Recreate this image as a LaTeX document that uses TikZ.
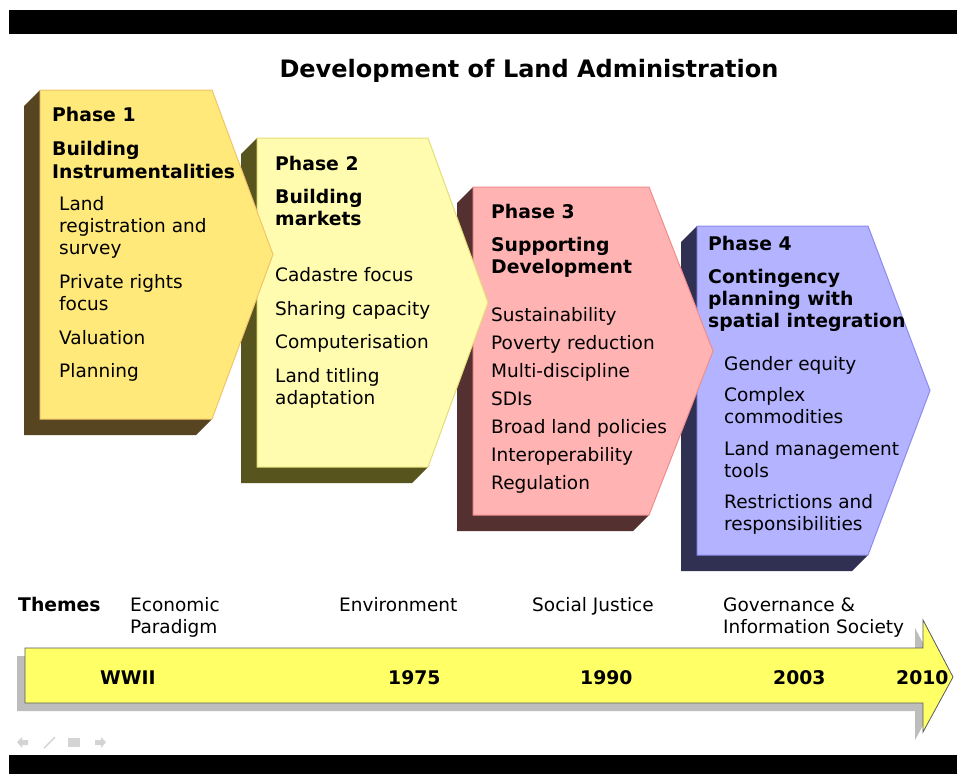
\documentclass[tikz,border=0pt]{standalone}
\usepackage{fontspec}
\setmainfont{DejaVu Sans}
\definecolor{ponef}{HTML}{FFE97A}
\definecolor{poneb}{HTML}{F2C46A}
\definecolor{pones}{HTML}{574420}
\definecolor{ptwof}{HTML}{FFFCB0}
\definecolor{ptwob}{HTML}{E4DE78}
\definecolor{ptwos}{HTML}{57541E}
\definecolor{pthrf}{HTML}{FFB3B3}
\definecolor{pthrb}{HTML}{F08C8C}
\definecolor{pthrs}{HTML}{553030}
\definecolor{pfouf}{HTML}{B3B3FF}
\definecolor{pfoub}{HTML}{8C8CF0}
\definecolor{pfous}{HTML}{303052}
\definecolor{arrowfill}{HTML}{FFFF66}
\definecolor{arrowshd}{HTML}{BDBDBD}
\definecolor{navg}{HTML}{D4D4D4}
\newcommand\mytxt[4]{\node[txt] (#1) at (#2,#3) {#4};}
\newcommand\mybold[4]{\node[txt,font=\fontsize{18.8}{22}\selectfont\bfseries] (#1) at (#2,#3) {#4};}
% phase shape: #1 front, #2 border, #3 shadow, x0, x1, xp, y0, y1
\newcommand\phaseshape[8]{%
  \pgfmathsetmacro\ym{(#7+#8)/2}%
  \fill[#3] (#4,#7) -- (#4-16,#7+16) -- (#4-16,#8+16) -- (#5-16,#8+16) -- (#5,#8) -- (#4,#8) -- cycle;
  \filldraw[fill=#1,draw=#2,line width=1pt,line join=miter] (#4,#7) -- (#5,#7) -- (#6,\ym) -- (#5,#8) -- (#4,#8) -- cycle;
}
\begin{document}
\begin{tikzpicture}[x=1pt,y=-1pt,
  txt/.style={inner sep=0pt,anchor=base west,font=\fontsize{18.5}{22}\selectfont}]
\useasboundingbox (0,0) rectangle (957,774);
\fill[white] (0,0) rectangle (957,774);
% black bars
\fill[black] (9,10) rectangle (957,34);
\fill[black] (9,755) rectangle (957,774);
% title
\node[inner sep=0pt,anchor=base,font=\fontsize{24}{28}\selectfont\bfseries] (title) at (529,77) {Development of Land Administration};
% phases, drawn back to front
\phaseshape{pfouf}{pfoub}{pfous}{697}{868}{930}{226}{555}
\phaseshape{pthrf}{pthrb}{pthrs}{473}{649}{713}{187}{515}
\phaseshape{ptwof}{ptwob}{ptwos}{257}{428}{488}{138}{467}
\phaseshape{ponef}{poneb}{pones}{40}{212}{273}{90}{419}
% phase 1 text
\mybold{p1h}{52}{121}{Phase 1}
\mybold{p1a}{52}{155}{Building}
\mybold{p1b}{52}{178}{Instrumentalities}
\mytxt{p1c}{59}{210}{Land}
\mytxt{p1d}{59}{232}{registration and}
\mytxt{p1e}{59}{254}{survey}
\mytxt{p1f}{59}{288}{Private rights}
\mytxt{p1g}{59}{310}{focus}
\mytxt{p1i}{59}{344}{Valuation}
\mytxt{p1j}{59}{377}{Planning}
% phase 2 text
\mybold{p2h}{275}{170}{Phase 2}
\mybold{p2a}{275}{203}{Building}
\mybold{p2b}{275}{225}{markets}
\mytxt{p2c}{275}{281}{Cadastre focus}
\mytxt{p2d}{275}{315}{Sharing capacity}
\mytxt{p2e}{275}{348}{Computerisation}
\mytxt{p2f}{275}{382}{Land titling}
\mytxt{p2g}{275}{404}{adaptation}
% phase 3 text
\mybold{p3h}{491}{218}{Phase 3}
\mybold{p3a}{491}{251}{Supporting}
\mybold{p3b}{491}{273}{Development}
\mytxt{p3c}{491}{321}{Sustainability}
\mytxt{p3d}{491}{349}{Poverty reduction}
\mytxt{p3e}{491}{377}{Multi-discipline}
\mytxt{p3f}{491}{405}{SDIs}
\mytxt{p3g}{491}{433}{Broad land policies}
\mytxt{p3i}{491}{461}{Interoperability}
\mytxt{p3j}{491}{489}{Regulation}
% phase 4 text
\mybold{p4h}{708}{250}{Phase 4}
\mybold{p4a}{708}{283}{Contingency}
\mybold{p4b}{708}{305}{planning with}
\mybold{p4c}{708}{327}{spatial integration}
\mytxt{p4d}{724}{370}{Gender equity}
\mytxt{p4e}{724}{401}{Complex}
\mytxt{p4f}{724}{423}{commodities}
\mytxt{p4g}{724}{455}{Land management}
\mytxt{p4i}{724}{477}{tools}
\mytxt{p4j}{724}{508}{Restrictions and}
\mytxt{p4k}{724}{530}{responsibilities}
% themes
\mybold{themes}{18}{611}{Themes}
\mytxt{thA}{130}{611}{Economic}
\mytxt{thB}{130}{633}{Paradigm}
\mytxt{thC}{339}{611}{Environment}
\mytxt{thD}{532}{611}{Social Justice}
\mytxt{thE}{723}{611}{Governance \&}
\mytxt{thF}{723}{633}{Information Society}
% timeline arrow
\fill[arrowshd] (17,656) -- (915,656) -- (915,628) -- (945,685) -- (915,740) -- (915,711) -- (17,711) -- cycle;
\filldraw[fill=arrowfill,draw=black!65,line width=0.8pt] (25,648) -- (923,648) -- (923,620) -- (953,677) -- (923,732) -- (923,703) -- (25,703) -- cycle;
\mybold{yA}{100}{684}{WWII}
\mybold{yB}{388}{684}{1975}
\mybold{yC}{580}{684}{1990}
\mybold{yD}{773}{684}{2003}
\mybold{yE}{896}{684}{2010}
% navigation icons
\fill[navg] (17,742) -- (22,737) -- (22,740) -- (28,740) -- (28,745) -- (22,745) -- (22,748) -- cycle;
\draw[navg,line width=1.4pt] (44,748) -- (55,737);
\fill[navg] (68,738) rectangle (80,747);
\fill[navg] (106,742) -- (101,737) -- (101,740) -- (95,740) -- (95,745) -- (101,745) -- (101,748) -- cycle;
\end{tikzpicture}
\end{document}
